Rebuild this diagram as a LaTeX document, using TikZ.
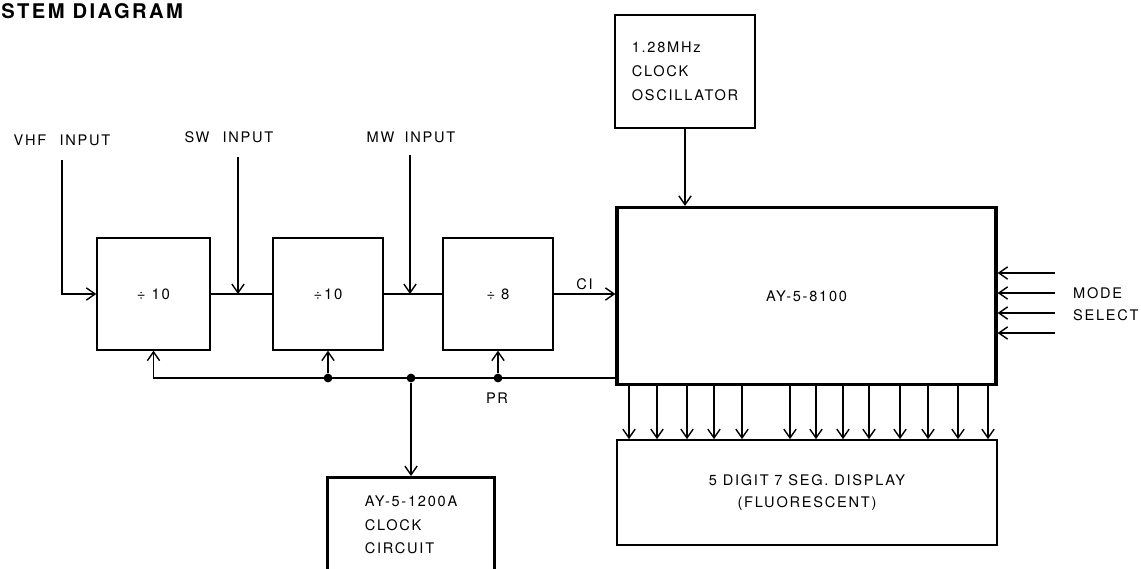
\documentclass[tikz,border=0pt]{standalone}
\usepackage{fontspec}
\setmainfont{TeX Gyre Heros}[LetterSpace=12]
\usetikzlibrary{arrows.meta, positioning, calc}

\begin{document}
\begin{tikzpicture}[x=0.02cm, y=-0.02cm, >={Straight Barb[length=5pt, width=7pt]},
    block/.style={draw, thick, minimum width=2.2cm, minimum height=2.24cm, font=\fontsize{8.5}{10}\selectfont},
    chip/.style={draw, line width=1.7pt, align=left, font=\fontsize{8.3}{13.5}\selectfont},
    lbl/.style={inner sep=1pt, align=left, font=\fontsize{8.3}{12.5}\selectfont},
    wire/.style={thick},
    junc/.style={circle, fill, inner sep=0pt, minimum size=5pt}]
                \useasboundingbox (0,0) rectangle (1141,568);
                \clip (0,0) rectangle (1141,568);

                % Title
                \node[anchor=west, inner sep=0pt, font=\fontsize{11.5}{12}\selectfont\bfseries] (title) at (1,11) {STEM DIAGRAM};

                % Divider chain
                \node[block, minimum width=2.26cm] (div1) at (153.5,294) {÷ 10};
                \node[block] (div2) at (328,294) {÷10};
                \node[block] (div3) at (498,294) {÷ 8};

                % Main chips
                \node[chip, line width=1.9pt, minimum width=7.58cm, minimum height=3.54cm] (ctr) at (806.5,296) {AY-5-8100};
                \node[chip, thick, minimum width=2.8cm, minimum height=2.26cm] (osc) at (685,71.5) {1.28MHz\\CLOCK\\OSCILLATOR};
                \node[chip, line width=1pt, minimum width=7.6cm, minimum height=2.1cm, align=center,
                      font=\fontsize{8.3}{12.5}\selectfont] (disp) at (807,492.5) {5 DIGIT 7 SEG. DISPLAY\\(FLUORESCENT)};
                \node[chip, minimum width=3.36cm, minimum height=1.9cm] (clk) at (411,525) {AY-5-1200A\\CLOCK\\CIRCUIT};

                % Input labels
                \node[lbl] (vhf) at (62,140) {VHF\hspace{0.9em}INPUT};
                \node[lbl] (sw) at (229,137) {SW\hspace{0.9em}INPUT};
                \node[lbl] (mw) at (411,137) {MW\hspace{0.7em}INPUT};
                \coordinate (vhfin) at (62,160);
                \coordinate (swin) at (238,157);
                \coordinate (mwin) at (410,155);

                % Signal path
                \draw[wire, ->] (vhfin) |- (div1.west);
                \draw[wire] (div1.east) -- (div2.west);
                \draw[wire] (div2.east) -- (div3.west);
                \draw[wire, ->] (swin) -- (swin |- div1.east);
                \draw[wire, ->] (mwin) -- (mwin |- div2.east);
                \draw[wire, ->] (div3.east) -- (div3.east -| ctr.west) node[midway, above, lbl, yshift=1pt] (ci) {CI};
                \draw[wire, ->] (osc.south) -- (osc.south |- ctr.north);

                % Reset bus
                \coordinate (busR) at (ctr.west |- 0,378);
                \node[junc] (j2) at (div2.south |- busR) {};
                \node[junc] (jc) at (clk.north |- busR) {};
                \node[junc] (j3) at (div3.south |- busR) {};
                \draw[wire, ->] (busR) -| (div1.south);
                \draw[wire, ->] (j2) -- (div2.south);
                \draw[wire, ->] (j3) -- (div3.south);
                \draw[wire, ->] (jc) -- (clk.north);
                \node[lbl] (pr) at (497,398) {PR};

                % Mode select inputs
                \foreach \y [count=\i] in {273,293,313,333} {
                    \coordinate (ms\i) at (1055,\y);
                    \draw[wire, ->] (ms\i) -- (ms\i -| ctr.east);
                }
                \node[lbl, anchor=west] (mode) at (1071,304) {MODE\\SELECT};

                % Display drive lines
                \foreach \x in {629,657,687,714,742,790,816,843,869,900,928,958,988}
                    \draw[wire, ->] (\x,0 |- ctr.south) -- (\x,0 |- disp.north);
            \end{tikzpicture}
\end{document}
